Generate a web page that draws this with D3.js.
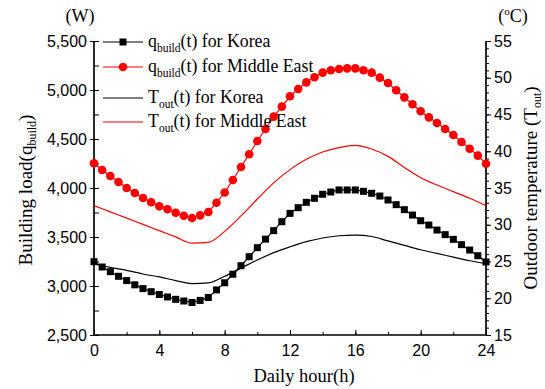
<!DOCTYPE html>
<html><head><meta charset="utf-8">
<script src="https://cdn.jsdelivr.net/npm/d3@7"></script>
<style>body{margin:0;background:#fff}svg{display:block}</style>
</head><body>
<svg id="c" width="545" height="389"></svg>
<script>
const halfHours = d3.range(0, 24.01, 0.5);
const hours = d3.range(0, 25, 1);
const qKorea = [3248,3194,3146,3099,3055,3012,2973,2942,2913,2888,2864,2847,2832,2853,2883,2960,3033,3120,3207,3299,3391,3478,3565,3656,3741,3799,3854,3895,3936,3959,3980,3980,3980,3966,3946,3918,3878,3830,3779,3724,3666,3622,3571,3524,3476,3422,3367,3309,3245];
const qME = [4252,4184,4122,4061,4000,3949,3898,3854,3813,3783,3748,3717,3694,3721,3755,3850,3954,4082,4214,4344,4480,4602,4728,4830,4936,5010,5078,5130,5177,5201,5214,5221,5221,5201,5177,5126,5071,4997,4925,4854,4783,4721,4663,4602,4541,4469,4401,4330,4248];
const tKorea = [24.7,24.2,23.8,23.3,22.9,22.4,22.0,22.1,23.0,24.1,25.2,26.2,27.0,27.7,28.2,28.5,28.6,28.4,27.8,27.2,26.6,26.1,25.6,25.1,24.7];
const tME = [32.6,31.75,30.9,30.05,29.2,28.35,27.5,27.6,29.1,31.2,33.5,35.7,37.5,38.9,39.9,40.5,40.8,40.3,39.3,37.8,36.4,35.4,34.5,33.6,32.6];
const xTicks = [0,4,8,12,16,20,24];
const yLeftTicks = [2500,3000,3500,4000,4500,5000,5500];
const yRightTicks = [15,20,25,30,35,40,45,50,55];

const svg = d3.select("#c");
const L = 94, R = 486, T = 41, B = 335;
const x = d3.scaleLinear().domain([0,24]).range([L,R]);
const yL = d3.scaleLinear().domain([2500,5500]).range([B,T]);
const yR = d3.scaleLinear().domain([15,55]).range([B,T]);
const sans = "Liberation Sans, Arial, sans-serif";
const serif = "Liberation Serif, Times New Roman, serif";

// axes
const gL = svg.append("g").attr("transform",`translate(${L},0)`)
  .call(d3.axisLeft(yL).tickValues(d3.range(2500,5501,250)).tickSize(-5).tickFormat(""));
const gL2 = svg.append("g").attr("transform",`translate(${L},0)`)
  .call(d3.axisLeft(yL).tickValues(yLeftTicks).tickSize(4).tickPadding(3).tickFormat(d3.format(",")));
const gR = svg.append("g").attr("transform",`translate(${R},0)`)
  .call(d3.axisRight(yR).tickValues(d3.range(15,56,1)).tickSize(3).tickFormat(""));
const gR2 = svg.append("g").attr("transform",`translate(${R},0)`)
  .call(d3.axisRight(yR).tickValues(yRightTicks).tickSize(5).tickPadding(3));
const gB = svg.append("g").attr("transform",`translate(0,${B})`)
  .call(d3.axisBottom(x).tickValues(d3.range(0,25,2)).tickSize(-3).tickFormat(""));
const gB2 = svg.append("g").attr("transform",`translate(0,${B})`)
  .call(d3.axisBottom(x).tickValues(xTicks).tickSize(-5).tickPadding(10));
[gL,gL2,gR,gR2,gB,gB2].forEach(g=>{
  g.selectAll("path.domain").attr("stroke","#000").attr("stroke-width",1.2);
  g.selectAll("line").attr("stroke","#000").attr("stroke-width",1);
  g.selectAll("text").attr("font-family",sans).attr("font-size",16).attr("fill","#000");
});
[gL,gL2,gR,gR2].forEach(g=>g.select("path.domain").attr("d",`M0,${B}V${T}`));
[gB,gB2].forEach(g=>g.select("path.domain").attr("d",`M${L},0H${R}`));
gB2.selectAll("line").attr("y1",-5).attr("y2",0);

// temperature lines
const lineT = d3.line().x((d,i)=>x(hours[i])).y(d=>yR(d)).curve(d3.curveMonotoneX);
svg.append("path").attr("d",lineT(tKorea)).attr("fill","none").attr("stroke","#000").attr("stroke-width",1.2);
svg.append("path").attr("d",lineT(tME)).attr("fill","none").attr("stroke","#ff0000").attr("stroke-width",1.2);

// load lines
const lineQ = d3.line().x((d,i)=>x(halfHours[i])).y(d=>yL(d));
svg.append("path").attr("d",lineQ(qKorea)).attr("fill","none").attr("stroke","#000").attr("stroke-width",1.2);
svg.append("path").attr("d",lineQ(qME)).attr("fill","none").attr("stroke","#ff0000").attr("stroke-width",1.2);
svg.append("g").selectAll("rect").data(qKorea).join("rect")
  .attr("x",(d,i)=>x(halfHours[i])-3.5).attr("y",d=>yL(d)-3.5)
  .attr("width",7).attr("height",7).attr("fill","#000");
svg.append("g").selectAll("circle").data(qME).join("circle")
  .attr("cx",(d,i)=>x(halfHours[i])).attr("cy",d=>yL(d)).attr("r",4.3).attr("fill","#ff0000");

// legend
const leg = [
  {y:42, c:"#000", m:"sq", v:"q", sub:"build", rest:"(t) for Korea"},
  {y:67, c:"#ff0000", m:"ci", v:"q", sub:"build", rest:"(t) for Middle East"},
  {y:98, c:"#000", m:null, v:"T", sub:"out", rest:"(t) for Korea"},
  {y:122, c:"#ff0000", m:null, v:"T", sub:"out", rest:"(t) for Middle East"}
];
leg.forEach(d=>{
  svg.append("line").attr("x1",103).attr("x2",143).attr("y1",d.y).attr("y2",d.y)
    .attr("stroke",d.c).attr("stroke-width",1.2);
  if(d.m==="sq") svg.append("rect").attr("x",119.5).attr("y",d.y-3.5).attr("width",7).attr("height",7).attr("fill",d.c);
  if(d.m==="ci") svg.append("circle").attr("cx",123).attr("cy",d.y).attr("r",4.3).attr("fill",d.c);
  const t = svg.append("text").attr("x",148).attr("y",d.y+5).attr("font-family",serif).attr("font-size",17.8).attr("fill","#000");
  t.append("tspan").text(d.v);
  t.append("tspan").attr("font-size",11.5).attr("dy",5).text(d.sub);
  t.append("tspan").attr("dy",-5).text(d.rest);
});

// axis titles
const yt = svg.append("text").attr("transform",`translate(32,190) rotate(-90)`)
  .attr("text-anchor","middle").attr("font-family",serif).attr("font-size",19);
yt.append("tspan").text("Building load(q");
yt.append("tspan").attr("font-size",12).attr("dy",4).text("build");
yt.append("tspan").attr("dy",-4).text(")");
svg.append("text").attr("x",80).attr("y",22).attr("text-anchor","middle").attr("font-family",serif).attr("font-size",18).text("(W)");
const rt = svg.append("text").attr("x",513).attr("y",22).attr("text-anchor","middle").attr("font-family",serif).attr("font-size",18);
rt.append("tspan").text("(");
rt.append("tspan").attr("font-size",11).attr("dy",-7).text("o");
rt.append("tspan").attr("dy",7).text("C)");
const rt2 = svg.append("text").attr("transform",`translate(537,188) rotate(-90)`)
  .attr("text-anchor","middle").attr("font-family",serif).attr("font-size",19);
rt2.append("tspan").text("Outdoor temperature (T");
rt2.append("tspan").attr("font-size",12).attr("dy",4).text("out");
rt2.append("tspan").attr("dy",-4).text(")");
svg.append("text").attr("x",304).attr("y",382).attr("text-anchor","middle").attr("font-family",serif).attr("font-size",18.5).text("Daily hour(h)");
</script>
</body></html>
